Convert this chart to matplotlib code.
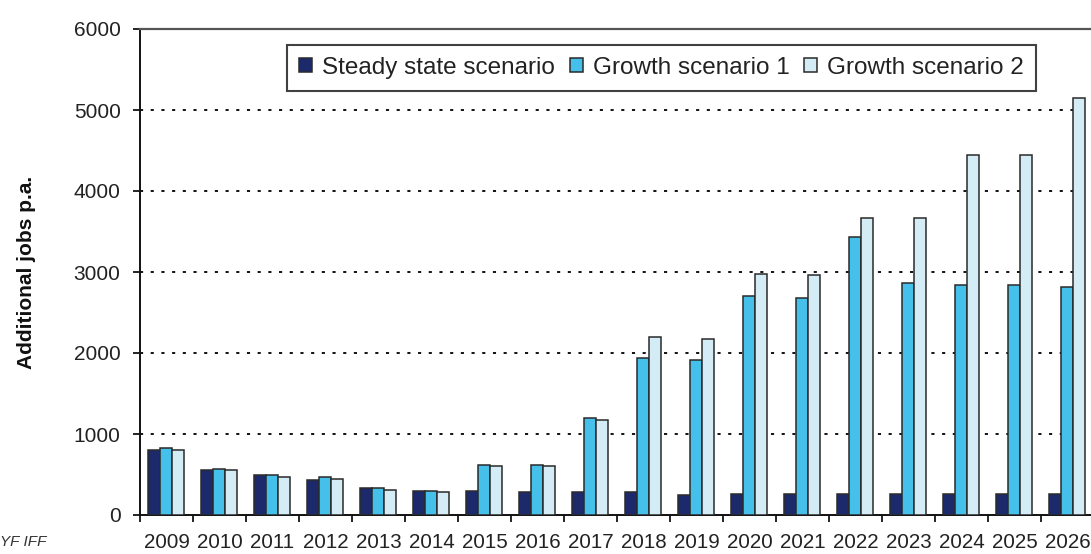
import numpy as np
import matplotlib.pyplot as plt

years = ['2009', '2010', '2011', '2012', '2013', '2014', '2015', '2016', '2017',
         '2018', '2019', '2020', '2021', '2022', '2023', '2024', '2025', '2026']
steady = [800, 550, 500, 430, 330, 300, 300, 280, 280,
          280, 250, 260, 260, 260, 260, 260, 260, 260]
growth1 = [825, 570, 500, 470, 330, 300, 620, 620, 1200,
           1940, 1910, 2700, 2680, 3430, 2870, 2840, 2840, 2810]
growth2 = [800, 550, 470, 450, 310, 280, 600, 600, 1175,
           2200, 2170, 2980, 2960, 3670, 3670, 4440, 4440, 5150]
series_names = ['Steady state scenario', 'Growth scenario 1', 'Growth scenario 2']
colors = ['#1c2a6b', '#45c0ea', '#d4ecf5']

plt.rcParams['font.family'] = ['Liberation Sans', 'DejaVu Sans']

fig = plt.figure(figsize=(10.91, 5.54), dpi=100)
ax = fig.add_axes([140 / 1091, 1 - 515 / 554, 954 / 1091, 486 / 554])

x = np.arange(len(years))
w = 0.228
for k, (vals, name, c) in enumerate(zip([steady, growth1, growth2], series_names, colors)):
    ax.bar(x + (k - 1) * w - 0.015, vals, width=w, color=c, edgecolor='#2a2a2a',
           linewidth=1.1, label=name, zorder=3)

ax.set_xlim(-0.5, len(years) - 0.5)
ax.set_ylim(0, 6000)
ax.set_yticks(range(0, 6001, 1000))
ax.tick_params(axis='y', length=5, width=1.2, pad=9, labelsize=15, labelcolor='#222222')

# ticks at category boundaries, labels at centres
ax.set_xticks(np.arange(-0.5, len(years), 1))
ax.set_xticklabels([])
ax.set_xticks(x, minor=True)
ax.set_xticklabels(years, minor=True, fontsize=14.8, color='#222222')
ax.tick_params(axis='x', which='major', length=5, width=1.2)
ax.tick_params(axis='x', which='minor', length=0, pad=13)

for y in range(1000, 6000, 1000):
    ax.axhline(y, color='#111111', linewidth=1.4, linestyle=(0, (1.6, 3.9)), zorder=1)

for side in ['left', 'bottom']:
    ax.spines[side].set_linewidth(1.4)
    ax.spines[side].set_color('#111111')
ax.spines['top'].set_linewidth(1.6)
ax.spines['top'].set_color('#555555')
ax.spines['right'].set_visible(False)

ax.set_ylabel('Additional jobs p.a.', fontsize=15, fontweight='bold', color='#111111')
ax.yaxis.set_label_coords(-104 / 954, 0.5)

leg = ax.legend(ncol=3, loc='upper left', bbox_to_anchor=(0.154, 0.968),
                fontsize=17.5, frameon=True, fancybox=False, edgecolor='#111111',
                handlelength=0.55, handleheight=0.55, handletextpad=0.4,
                columnspacing=0.6, borderpad=0.5, borderaxespad=0)
leg.get_frame().set_linewidth(1.5)
for t in leg.get_texts():
    t.set_color('#222222')

fig.text(0.0, 1 - 542 / 554, 'YF IFF', fontsize=11, style='italic', color='#333333',
         ha='left', va='center')

fig.savefig('out.png', dpi=100)
